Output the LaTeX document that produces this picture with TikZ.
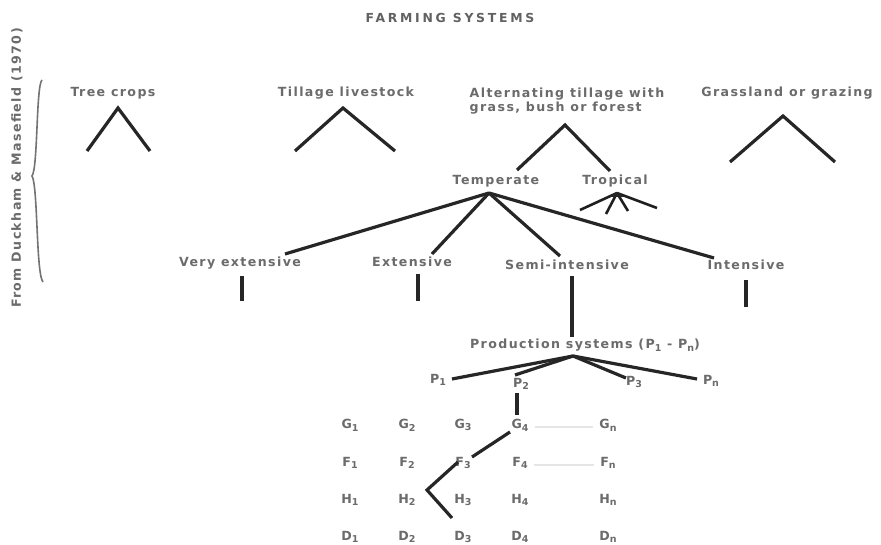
\documentclass[tikz,border=0pt]{standalone}
\usepackage{fontspec}
\usetikzlibrary{calc}
\setmainfont{DejaVu Sans}
\newfontfamily\labfont[LetterSpace=11]{DejaVu Sans Bold}
\newfontfamily\titlefont[LetterSpace=22]{DejaVu Sans Bold}
\newcommand\sbs[1]{\raisebox{-0.4ex}{\fontsize{9.5}{10}\selectfont #1}}
\begin{document}
\begin{tikzpicture}[x=1pt,y=-1pt,
  lbl/.style={font=\labfont\fontsize{12.6}{14.5}\selectfont, text=black!58, inner sep=0pt},
  ttl/.style={font=\titlefont\fontsize{12.4}{14}\selectfont, text=black!62, inner sep=0pt},
  branch/.style={line width=3.2pt, draw=black!85},
  fanthin/.style={line width=2.6pt, draw=black!88},
  faint/.style={line width=1.3pt, draw=black!10},
  bracest/.style={line width=1.6pt, draw=black!55}]
\useasboundingbox[fill=white] (0,0) rectangle (881,545);

% title and source
\node[ttl] (title) at (450,18) {FARMING SYSTEMS};
\node[lbl, rotate=90] (src) at (17,168) {From Duckham \& Masefield (1970)};
\coordinate (brT) at (42,80);
\coordinate (brM) at (32,176);
\coordinate (brB) at (43,282);
\draw[bracest] (brT) .. controls (36,86) and (38,168) .. (brM)
               .. controls (38,186) and (36,274) .. (brB);

% level 1
\node[lbl] (tree) at (113,93) {Tree crops};
\node[lbl] (till) at (346,93) {Tillage livestock};
\node[lbl, align=left] (alt) at (567,101) {Alternating tillage with\\grass, bush or forest};
\node[lbl] (grass) at (787,93) {Grassland or grazing};

\coordinate (treeA) at (118,108); \coordinate (treeL) at (87,151); \coordinate (treeR) at (150,151);
\draw[branch] (treeL) -- (treeA) -- (treeR);
\coordinate (tillA) at (343,108); \coordinate (tillL) at (295,151); \coordinate (tillR) at (395,151);
\draw[branch] (tillL) -- (tillA) -- (tillR);
\coordinate (grassA) at (783,116); \coordinate (grassL) at (730,162); \coordinate (grassR) at (835,162);
\draw[branch] (grassL) -- (grassA) -- (grassR);

% level 2
\node[lbl] (temp) at (496,181) {Temperate};
\node[lbl] (trop) at (615,181) {Tropical};
\coordinate (altA) at (565,125);
\coordinate (altL) at (517,170);
\coordinate (altR) at (610,171);
\draw[branch] (altL) -- (altA) -- (altR);

% tropical fan
\coordinate (tropA) at (617,193);
\coordinate (tr1) at (580,210); \coordinate (tr2) at (606,214);
\coordinate (tr3) at (628,211); \coordinate (tr4) at (657,208);
\foreach \e in {tr1,tr2,tr3,tr4} \draw[fanthin] (tropA) -- (\e);
\fill[black!85] (tropA) ++(-9,4) -- ++(9,-5) -- ++(9,5) -- cycle;

% level 3
\node[lbl] (vext) at (240,263) {Very extensive};
\node[lbl] (ext) at (412,262) {Extensive};
\node[lbl] (semi) at (567,265) {Semi-intensive};
\node[lbl] (inten) at (746,265) {Intensive};
\coordinate (tempA) at (489,193);
\coordinate (vextE) at (285,254); \coordinate (extE) at (432,254);
\coordinate (semiE) at (560,256); \coordinate (intE) at (714,258);
\foreach \e in {vextE,extE,semiE,intE} \draw[branch] (tempA) -- (\e);

\coordinate (vt1) at (242,276); \coordinate (vt2) at (242,301);
\coordinate (et1) at (418,274); \coordinate (et2) at (418,301);
\coordinate (it1) at (746,280); \coordinate (it2) at (746,307);
\draw[branch] (vt1) -- (vt2);
\draw[branch] (et1) -- (et2);
\draw[branch] (it1) -- (it2);

% production systems
\node[lbl] (prod) at (585,345) {Production systems (P\sbs{1} - P\sbs{n})};
\coordinate (st1) at (572,276);
\coordinate (st2) at (572,337);
\draw[branch] (st1) -- (st2);
\node[lbl] (p1) at (438,380) {P\sbs{1}};
\node[lbl] (p2) at (521,384) {P\sbs{2}};
\node[lbl] (p3) at (634,382) {P\sbs{3}};
\node[lbl] (pn) at (711,381) {P\sbs{n}};
\coordinate (prodA) at (573,356);
\coordinate (p1E) at (452,379); \coordinate (p2E) at (515,375);
\coordinate (p3E) at (626,378); \coordinate (pnE) at (697,379);
\foreach \e in {p1E,p2E,p3E,pnE} \draw[branch] (prodA) -- (\e);

% grid of components
\foreach \r/\L/\y in {g/G/425, f/F/463, h/H/500, d/D/537}{
  \foreach \c/\x in {1/350, 2/407, 3/463, 4/520, n/608}{
    \node[lbl] (\r\c) at (\x,\y) {\L\sbs{\c}};
  }
}
\draw[faint] ($(g4.east)+(6,2)$) -- ($(gn.west)+(-6,2)$);
\draw[faint] ($(f4.east)+(6,2)$) -- ($(fn.west)+(-6,2)$);

% chosen path
\coordinate (p2d1) at (517,393); \coordinate (p2d2) at (517,415);
\draw[branch] (p2d1) -- (p2d2);
\coordinate (pa1) at (510,432); \coordinate (pa2) at (472,457);
\coordinate (pb1) at (458,462); \coordinate (pb2) at (427,490); \coordinate (pb3) at (452,518);
\draw[branch] (pa1) -- (pa2);
\draw[branch] (pb1) -- (pb2) -- (pb3);
\end{tikzpicture}
\end{document}
